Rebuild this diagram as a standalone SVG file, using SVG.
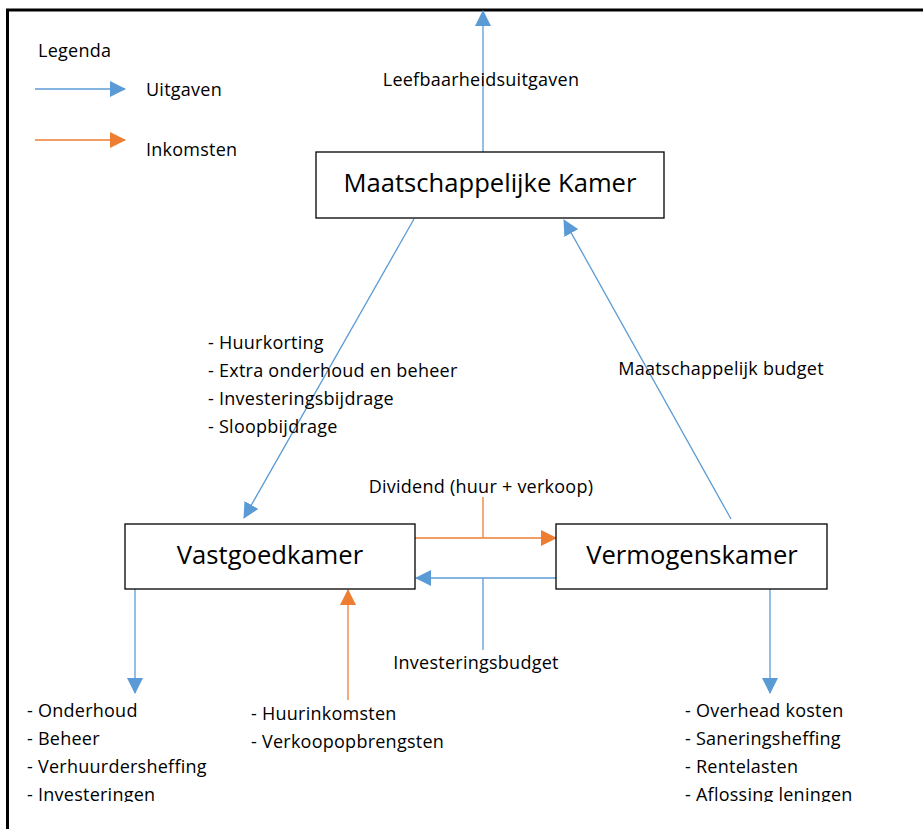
<svg xmlns="http://www.w3.org/2000/svg" width="923" height="829" viewBox="0 0 923 829">
<style>
text{font-family:"Open Sans","Noto Sans","Liberation Sans",sans-serif;fill:#000}
.t{font-size:18px;letter-spacing:0.25px}
.b{font-size:25.6px}
.box{fill:#fff;stroke:#000;stroke-width:1.3}
.blue{stroke:#5B9BD5;stroke-width:1.3;fill:none}
.orange{stroke:#ED7D31;stroke-width:1.3;fill:none}
.ab{marker-end:url(#mb)}
.ao{marker-end:url(#mo)}
</style>
<defs>
<marker id="mb" viewBox="0 0 16 16" refX="15" refY="8" markerWidth="16" markerHeight="16" markerUnits="userSpaceOnUse" orient="auto"><path d="M0,0 L16,8 L0,16 Z" fill="#5B9BD5"/></marker>
<marker id="mo" viewBox="0 0 16 16" refX="15" refY="8" markerWidth="16" markerHeight="16" markerUnits="userSpaceOnUse" orient="auto"><path d="M0,0 L16,8 L0,16 Z" fill="#ED7D31"/></marker>
<clipPath id="bot"><rect x="0" y="0" width="923" height="802"/></clipPath>
</defs>
<rect width="923" height="829" fill="#fff"/>
<g id="frame" stroke="#000" stroke-width="3" fill="none"><path d="M7.5,829 V10 H923"/></g>
<g id="legend">
<text class="t" x="38" y="57">Legenda</text>
<line class="blue ab" x1="35" y1="89" x2="125" y2="89"/>
<text class="t" x="146" y="96">Uitgaven</text>
<line class="orange ao" x1="35" y1="140" x2="125" y2="140"/>
<text class="t" x="146" y="156">Inkomsten</text>
</g>
<g id="connectors">
<line class="blue ab" x1="483" y1="152" x2="483" y2="11"/>
<line class="blue ab" x1="414" y1="219" x2="244" y2="518"/>
<line class="blue ab" x1="731" y1="519" x2="564" y2="220"/>
<line class="orange ao" x1="415" y1="538" x2="556" y2="538"/>
<line class="orange" x1="483" y1="497" x2="483" y2="538"/>
<line class="blue ab" x1="556" y1="578" x2="416" y2="578"/>
<line class="blue" x1="483" y1="578" x2="483" y2="650"/>
<line class="blue ab" x1="135" y1="589" x2="135" y2="693"/>
<line class="orange ao" x1="348" y1="700" x2="348" y2="590"/>
<line class="blue ab" x1="770" y1="589" x2="770" y2="693"/>
</g>
<g id="maatschappelijke-kamer">
<rect class="box" x="316" y="152" width="348" height="66"/>
<text class="b" x="490" y="192" text-anchor="middle">Maatschappelijke Kamer</text>
</g>
<g id="vastgoedkamer">
<rect class="box" x="125" y="524" width="290" height="65"/>
<text class="b" x="270" y="564" text-anchor="middle">Vastgoedkamer</text>
</g>
<g id="vermogenskamer">
<rect class="box" x="556" y="524" width="271" height="65"/>
<text class="b" x="692" y="564" text-anchor="middle">Vermogenskamer</text>
</g>
<g id="labels">
<text class="t" x="481" y="86" text-anchor="middle">Leefbaarheidsuitgaven</text>
<text class="t" x="208" y="349">- Huurkorting</text>
<text class="t" x="208" y="377">- Extra onderhoud en beheer</text>
<text class="t" x="208" y="405">- Investeringsbijdrage</text>
<text class="t" x="208" y="433">- Sloopbijdrage</text>
<text class="t" x="721" y="375" text-anchor="middle">Maatschappelijk budget</text>
<text class="t" x="481" y="493" text-anchor="middle">Dividend (huur + verkoop)</text>
<text class="t" x="476" y="669" text-anchor="middle">Investeringsbudget</text>
<g clip-path="url(#bot)">
<text class="t" x="27" y="717">- Onderhoud</text>
<text class="t" x="27" y="745">- Beheer</text>
<text class="t" x="27" y="773">- Verhuurdersheffing</text>
<text class="t" x="27" y="801">- Investeringen</text>
<text class="t" x="685" y="717">- Overhead kosten</text>
<text class="t" x="685" y="745">- Saneringsheffing</text>
<text class="t" x="685" y="773">- Rentelasten</text>
<text class="t" x="685" y="801">- Aflossing leningen</text>
</g>
<text class="t" x="251" y="720">- Huurinkomsten</text>
<text class="t" x="251" y="748">- Verkoopopbrengsten</text>
</g>
</svg>
